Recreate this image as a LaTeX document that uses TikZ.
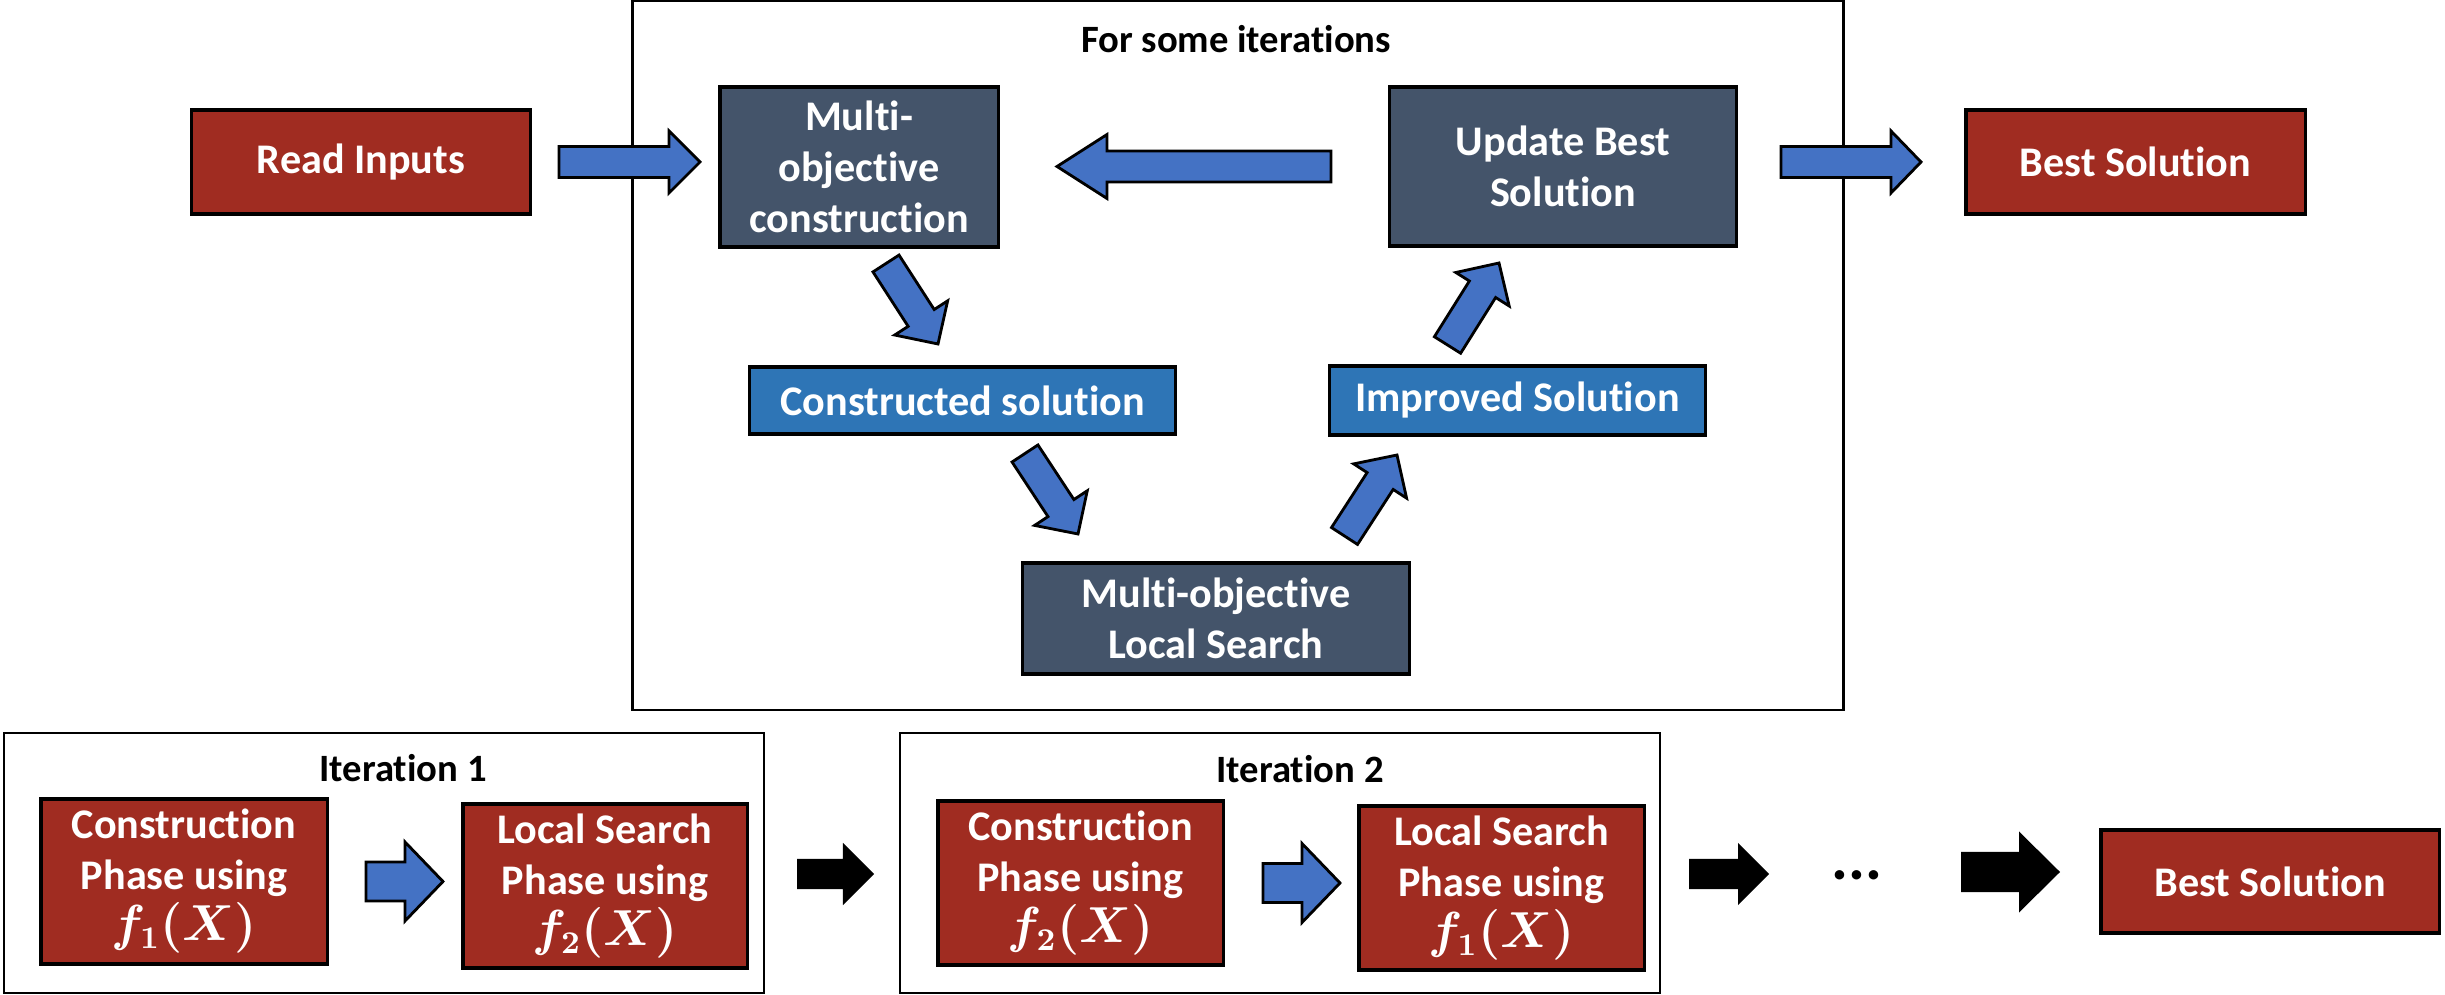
\documentclass[tikz,border=0pt]{standalone}
\usepackage{fontspec}
\setmainfont{Carlito}[Ligatures=NoCommon]
\usetikzlibrary{calc}

\definecolor{boxred}{RGB}{160,44,33}
\definecolor{boxslate}{RGB}{68,84,106}
\definecolor{boxblue}{RGB}{46,117,182}
\definecolor{arrblue}{RGB}{68,114,196}

% block arrow: [style]{start}{tip}{half shaft}{half head}{head length}
\newcommand{\blockarr}[6][]{%
  \coordinate (bah) at ($(#3)!#6!(#2)$);
  \draw[blockarrow,#1] ($(#2)!#4!90:(#3)$) -- ($(bah)!#4!90:(#3)$) -- ($(bah)!#5!90:(#3)$)
    -- (#3) -- ($(bah)!#5!-90:(#3)$) -- ($(bah)!#4!-90:(#3)$) -- ($(#2)!#4!-90:(#3)$) -- cycle;
}
\newcommand{\fofx}[1]{{\fontsize{13.5}{14.5}\selectfont\boldmath$f_{#1}(X)$}}

\begin{document}
\begin{tikzpicture}[
    x=0.01cm, y=-0.01cm,
    box/.style={draw=black, line width=0.9pt, rectangle, align=center, text=white, inner sep=0pt,
                font=\fontsize{12}{14.5}\selectfont\bfseries},
    loopframe/.style={draw=black, line width=0.7pt, rectangle, inner sep=0pt},
    headtxt/.style={font=\fontsize{11}{13}\selectfont\bfseries, anchor=base, inner sep=0pt},
    blockarrow/.style={fill=arrblue, draw=black, line width=0.8pt, line join=miter},
    blackarrow/.style={fill=black, draw=none}
]
  \useasboundingbox (0,0) rectangle (2445,995);

  % Outer loop
  \node[loopframe, minimum width=12.1cm, minimum height=7.09cm] (loop) at (1238,355.5) {};
  \node[headtxt] (looptxt) at (1236,53) {For some iterations};

  \node[box, fill=boxred, minimum width=3.38cm, minimum height=1.04cm] (readin) at (361,162) {Read Inputs};
  \node[box, fill=boxslate, minimum width=2.78cm, minimum height=1.6cm] (mocons) at (859,167) {Multi-\\objective\\construction};
  \node[box, fill=boxslate, minimum width=3.46cm, minimum height=1.59cm] (update) at (1563,166.5) {Update Best\\Solution};
  \node[box, fill=boxred, minimum width=3.39cm, minimum height=1.04cm] (bestsol) at (2135.5,162) {Best Solution};
  \node[box, fill=boxblue, minimum width=4.25cm, minimum height=0.67cm] (conssol) at (962.5,400.5) {Constructed solution};
  \node[box, fill=boxblue, minimum width=3.75cm, minimum height=0.69cm] (impsol) at (1517.5,400.5) {Improved Solution};
  \node[box, fill=boxslate, minimum width=3.86cm, minimum height=1.11cm] (mols) at (1216,618.5) {Multi-objective\\Local Search};

  \coordinate (a1s) at (559,162);    \coordinate (a1e) at (700,162);
  \coordinate (a2s) at (1331,166.5); \coordinate (a2e) at (1057,166.5);
  \coordinate (a3s) at (1781,162);   \coordinate (a3e) at (1921,162);
  \coordinate (d1s) at (886,263.5);  \coordinate (d1e) at (938,344);
  \coordinate (d2s) at (1025,453.5); \coordinate (d2e) at (1078,534);
  \coordinate (d3s) at (1344.5,536); \coordinate (d3e) at (1397,455);
  \coordinate (d4s) at (1447.5,345); \coordinate (d4e) at (1499,263);

  \blockarr{a1s}{a1e}{.155cm}{.31cm}{.31cm}
  \blockarr{a2s}{a2e}{.155cm}{.32cm}{.5cm}
  \blockarr{a3s}{a3e}{.155cm}{.31cm}{.30cm}
  \blockarr{d1s}{d1e}{.155cm}{.315cm}{.31cm}
  \blockarr{d2s}{d2e}{.155cm}{.315cm}{.31cm}
  \blockarr{d3s}{d3e}{.155cm}{.315cm}{.31cm}
  \blockarr{d4s}{d4e}{.155cm}{.315cm}{.31cm}

  % Iterations
  \node[loopframe, minimum width=7.6cm, minimum height=2.6cm] (it1) at (384,863) {};
  \node[headtxt] (it1txt) at (403,782) {Iteration 1};
  \node[box, fill=boxred, minimum width=2.86cm, minimum height=1.65cm] (cons1) at (184,881.5) {Construction\\Phase using\\\fofx{1}};
  \node[box, fill=boxred, minimum width=2.84cm, minimum height=1.64cm] (ls1) at (605,886) {Local Search\\Phase using\\\fofx{2}};

  \node[loopframe, minimum width=7.6cm, minimum height=2.6cm] (it2) at (1280,863) {};
  \node[headtxt] (it2txt) at (1300,783) {Iteration 2};
  \node[box, fill=boxred, minimum width=2.85cm, minimum height=1.64cm] (cons2) at (1080.5,883) {Construction\\Phase using\\\fofx{2}};
  \node[box, fill=boxred, minimum width=2.85cm, minimum height=1.64cm] (ls2) at (1501.5,888) {Local Search\\Phase using\\\fofx{1}};

  \node[font=\fontsize{18}{20}\selectfont\bfseries, inner sep=0pt] (dots) at (1857,875) {...};
  \node[box, fill=boxred, minimum width=3.38cm, minimum height=1.03cm] (best2) at (2270,881.5) {Best Solution};

  \coordinate (b1s) at (366,881.5);  \coordinate (b1e) at (443,881.5);
  \coordinate (b2s) at (1263,883);   \coordinate (b2e) at (1340,883);
  \coordinate (k1s) at (797,874);    \coordinate (k1e) at (874,874);
  \coordinate (k2s) at (1689,874);   \coordinate (k2e) at (1769,874);
  \coordinate (k3s) at (1961,872);   \coordinate (k3e) at (2060,872);

  \blockarr{b1s}{b1e}{.195cm}{.395cm}{.38cm}
  \blockarr{b2s}{b2e}{.195cm}{.395cm}{.38cm}
  \blockarr[blackarrow]{k1s}{k1e}{.15cm}{.31cm}{.31cm}
  \blockarr[blackarrow]{k2s}{k2e}{.15cm}{.31cm}{.31cm}
  \blockarr[blackarrow]{k3s}{k3e}{.20cm}{.405cm}{.41cm}
\end{tikzpicture}
\end{document}
